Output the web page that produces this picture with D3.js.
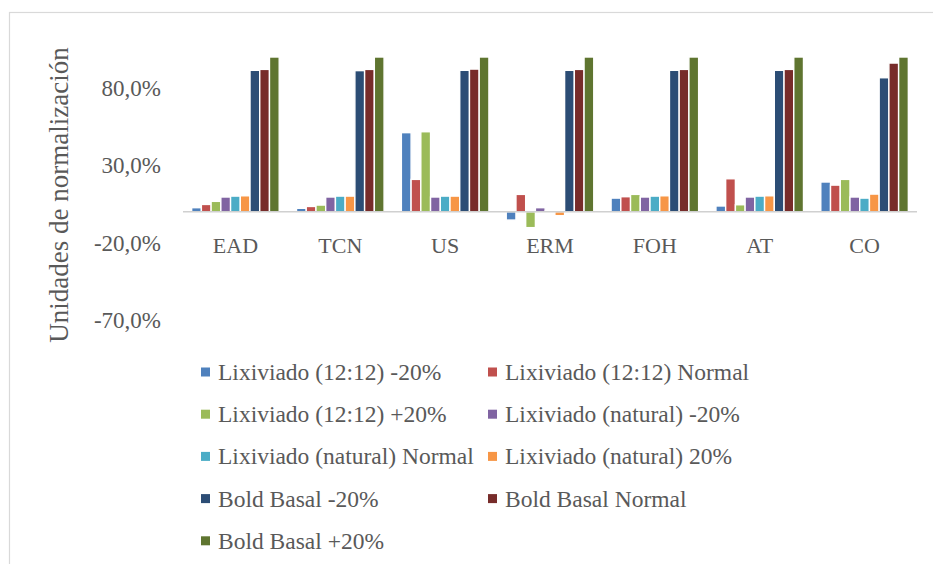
<!DOCTYPE html>
<html>
<head>
<meta charset="utf-8">
<script src="https://cdn.jsdelivr.net/npm/d3@7"></script>
<style>
  html, body { margin: 0; padding: 0; background: #ffffff; }
  svg { display: block; }
</style>
</head>
<body>
<svg id="chart" width="933" height="564"></svg>
<script>
// Categories along the x axis
const categories = ["EAD", "TCN", "US", "ERM", "FOH", "AT", "CO"];

// Series names (legend order)
const seriesNames = [
  "Lixiviado (12:12) -20%",
  "Lixiviado (12:12) Normal",
  "Lixiviado (12:12) +20%",
  "Lixiviado (natural) -20%",
  "Lixiviado (natural) Normal",
  "Lixiviado (natural) 20%",
  "Bold Basal -20%",
  "Bold Basal Normal",
  "Bold Basal +20%"
];

// Values in percent, one entry per category
const lix1212Minus20  = [2.6, 2.2, 51.1, -5.4, 8.8, 3.7, 19.2];
const lix1212Normal   = [4.7, 3.4, 20.9, 11.2, 9.7, 21.3, 17.2];
const lix1212Plus20   = [6.7, 4.3, 51.7, -10.3, 11.2, 4.5, 20.9];
const lixNatMinus20   = [9.5, 9.5, 9.5, 2.6, 9.5, 9.5, 9.5];
const lixNatNormal    = [10.1, 10.1, 10.1, 0.4, 10.1, 10.1, 8.8];
const lixNatPlus20    = [10.3, 10.1, 10.1, -2.6, 10.3, 10.3, 11.4];
const boldMinus20     = [91.4, 91.2, 91.4, 91.4, 91.4, 91.4, 86.6];
const boldNormal      = [92.0, 92.0, 92.2, 92.0, 92.0, 92.0, 96.1];
const boldPlus20      = [100, 100, 100, 100, 100, 100, 100];

const seriesValues = [
  lix1212Minus20, lix1212Normal, lix1212Plus20,
  lixNatMinus20, lixNatNormal, lixNatPlus20,
  boldMinus20, boldNormal, boldPlus20
];

// Y axis tick values (percent)
const yTicks = [-70, -20, 30, 80];
const yDomain = [-70, 110];

const colors = ["#4F81BD", "#C0504D", "#9BBB59", "#8064A2", "#4BACC6",
                "#F79646", "#2C4D75", "#772C2A", "#5F7530"];

const yTitle = "Unidades de normalización";

const svg = d3.select("#chart");
const textColor = "#595959";
const serif = "Liberation Serif, Times New Roman, serif";

// Chart frame
svg.append("rect")
  .attr("x", 9.5).attr("y", 12.5)
  .attr("width", 960).attr("height", 600)
  .attr("fill", "none")
  .attr("stroke", "#d9d9d9")
  .attr("stroke-width", 1.2);

const plotLeft = 183, plotRight = 917;

// 1.547 px per percentage point, -70 % sits at y = 320
const y = d3.scaleLinear()
  .domain(yDomain)
  .range([320, 320 - (yDomain[1] - yDomain[0]) * 1.547]);

const x0 = d3.scaleBand()
  .domain(categories)
  .range([plotLeft, plotRight])
  .paddingInner(0.165)
  .paddingOuter(0.0825);

const x1 = d3.scaleBand()
  .domain(d3.range(seriesNames.length))
  .range([0, x0.bandwidth()]);

// Bars
const groups = svg.append("g")
  .selectAll("g")
  .data(categories)
  .join("g")
  .attr("transform", d => `translate(${x0(d)},0)`);

groups.selectAll("rect")
  .data((c, ci) => seriesValues.map((vals, si) => ({ si, v: vals[ci] })))
  .join("rect")
  .attr("x", d => x1(d.si))
  .attr("width", x1.bandwidth())
  .attr("y", d => y(Math.max(0, d.v)))
  .attr("height", d => Math.abs(y(d.v) - y(0)))
  .attr("fill", d => colors[d.si])
  .attr("stroke", "#ffffff")
  .attr("stroke-width", 1.4);

// Horizontal category axis at zero
svg.append("line")
  .attr("x1", plotLeft).attr("x2", plotRight)
  .attr("y1", y(0)).attr("y2", y(0))
  .attr("stroke", "#d0d0d0")
  .attr("stroke-width", 1.5);

// Category labels
svg.append("g")
  .selectAll("text")
  .data(categories)
  .join("text")
  .attr("x", d => x0(d) + x0.bandwidth() / 2)
  .attr("y", y(0) + 41)
  .attr("text-anchor", "middle")
  .attr("font-family", serif)
  .attr("font-size", 22)
  .attr("fill", textColor)
  .text(d => d);

// Value axis labels (comma decimals, plain hyphen for negatives)
const fmt = v => (v < 0 ? "-" : "") + d3.format(".1f")(Math.abs(v)).replace(".", ",") + "%";
svg.append("g")
  .selectAll("text")
  .data(yTicks)
  .join("text")
  .attr("x", 161)
  .attr("y", d => y(d) + 8)
  .attr("text-anchor", "end")
  .attr("font-family", serif)
  .attr("font-size", 23)
  .attr("fill", textColor)
  .text(fmt);

// Axis title
svg.append("text")
  .attr("transform", `translate(68,195) rotate(-90)`)
  .attr("text-anchor", "middle")
  .attr("font-family", serif)
  .attr("font-size", 27)
  .attr("fill", textColor)
  .text(yTitle);

// Legend, two columns
const legend = svg.append("g");
const colX = [201, 488];
const rowY0 = 372, rowStep = 42.2;
const items = legend.selectAll("g")
  .data(seriesNames)
  .join("g")
  .attr("transform", (d, i) => `translate(${colX[i % 2]},${rowY0 + Math.floor(i / 2) * rowStep})`);

items.append("rect")
  .attr("x", 0).attr("y", -4.5)
  .attr("width", 9).attr("height", 9)
  .attr("fill", (d, i) => colors[i]);

items.append("text")
  .attr("x", 17)
  .attr("y", 8)
  .attr("font-family", serif)
  .attr("font-size", 23.5)
  .attr("fill", textColor)
  .text(d => d);
</script>
</body>
</html>
